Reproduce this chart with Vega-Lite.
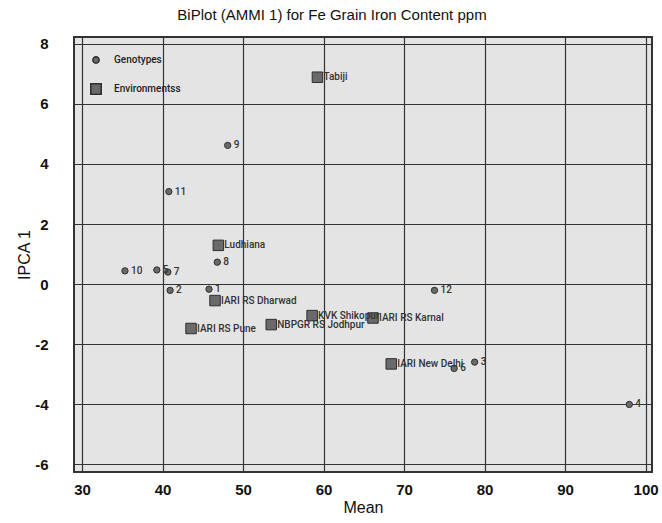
{
  "$schema": "https://vega.github.io/schema/vega-lite/v6.json",
  "width": 578,
  "height": 435,
  "autosize": {"type": "none"},
  "padding": {"left": 74, "top": 37, "right": 10, "bottom": 51},
  "background": "#ffffff",
  "title": {
    "text": "BiPlot (AMMI 1) for Fe Grain Iron Content ppm",
    "font": "Liberation Sans",
    "fontSize": 15,
    "fontWeight": "normal",
    "color": "#111111",
    "dx": -31,
    "offset": 14
  },
  "config": {
    "view": {"fill": "#e4e4e4", "stroke": "#333333", "strokeWidth": 2},
    "axis": {
      "grid": true,
      "gridColor": "#333333",
      "gridOpacity": 1,
      "gridWidth": 1.2,
      "ticks": false,
      "domain": false,
      "labelFont": "Liberation Sans",
      "labelFontWeight": "bold",
      "labelFontSize": 15,
      "labelColor": "#111111",
      "labelExpr": "toString(datum.value)",
      "titleFont": "Liberation Sans",
      "titleFontWeight": "normal",
      "titleFontSize": 16,
      "titleColor": "#111111"
    }
  },
  "data": {
    "values": [
      {"name": "1", "type": "Genotypes", "mean": 45.77, "ipca": -0.17},
      {"name": "2", "type": "Genotypes", "mean": 40.94, "ipca": -0.21},
      {"name": "3", "type": "Genotypes", "mean": 78.77, "ipca": -2.6},
      {"name": "4", "type": "Genotypes", "mean": 97.98, "ipca": -4.01},
      {"name": "5", "type": "Genotypes", "mean": 39.29, "ipca": 0.47},
      {"name": "6", "type": "Genotypes", "mean": 76.22, "ipca": -2.81},
      {"name": "7", "type": "Genotypes", "mean": 40.66, "ipca": 0.4},
      {"name": "8", "type": "Genotypes", "mean": 46.8, "ipca": 0.73},
      {"name": "9", "type": "Genotypes", "mean": 48.09, "ipca": 4.62},
      {"name": "10", "type": "Genotypes", "mean": 35.33, "ipca": 0.44},
      {"name": "11", "type": "Genotypes", "mean": 40.78, "ipca": 3.08},
      {"name": "12", "type": "Genotypes", "mean": 73.78, "ipca": -0.21},
      {"name": "Tabiji", "type": "Environmentss", "mean": 59.24, "ipca": 6.89},
      {"name": "Ludhiana", "type": "Environmentss", "mean": 46.93, "ipca": 1.29},
      {"name": "IARI RS Dharwad", "type": "Environmentss", "mean": 46.52, "ipca": -0.55},
      {"name": "IARI RS Pune", "type": "Environmentss", "mean": 43.54, "ipca": -1.48},
      {"name": "NBPGR RS Jodhpur", "type": "Environmentss", "mean": 53.5, "ipca": -1.35},
      {"name": "KVK Shikopur", "type": "Environmentss", "mean": 58.58, "ipca": -1.05},
      {"name": "IARI RS Karnal", "type": "Environmentss", "mean": 66.14, "ipca": -1.13},
      {"name": "IARI New Delhi", "type": "Environmentss", "mean": 68.41, "ipca": -2.66}
    ]
  },
  "encoding": {
    "x": {
      "field": "mean",
      "type": "quantitative",
      "scale": {"domain": [29, 100.8], "nice": false, "zero": false},
      "axis": {"values": [30, 40, 50, 60, 70, 80, 90, 100], "labelPadding": 10, "title": "Mean", "titlePadding": 2}
    },
    "y": {
      "field": "ipca",
      "type": "quantitative",
      "scale": {"domain": [-6.26, 8.23], "nice": false, "zero": false},
      "axis": {"values": [-6, -4, -2, 0, 2, 4, 6, 8], "labelPadding": 26, "title": "IPCA 1", "titlePadding": 2}
    }
  },
  "layer": [
    {
      "mark": {"type": "point", "filled": true, "fill": "#6a6a6a", "stroke": "#2e2e2e", "strokeWidth": 1, "opacity": 1},
      "encoding": {
        "shape": {
          "field": "type",
          "type": "nominal",
          "scale": {"domain": ["Genotypes", "Environmentss"], "range": ["circle", "square"]},
          "legend": {
            "title": null,
            "orient": "none",
            "legendX": 16,
            "legendY": 18,
            "labelFont": "Roboto",
            "labelFontWeight": 500,
            "labelFontSize": 10,
            "labelColor": "#222222",
            "symbolFillColor": "#6a6a6a",
            "symbolStrokeColor": "#2e2e2e",
            "symbolOpacity": 1,
            "rowPadding": 13,
            "labelOffset": 12
          }
        },
        "size": {
          "field": "type",
          "type": "nominal",
          "scale": {"domain": ["Genotypes", "Environmentss"], "range": [40, 110]}
        }
      }
    },
    {
      "mark": {"type": "text", "align": "left", "baseline": "middle", "dx": 6, "font": "Roboto", "fontWeight": 500, "fontSize": 10, "color": "#333333"},
      "encoding": {"text": {"field": "name"}}
    }
  ]
}
